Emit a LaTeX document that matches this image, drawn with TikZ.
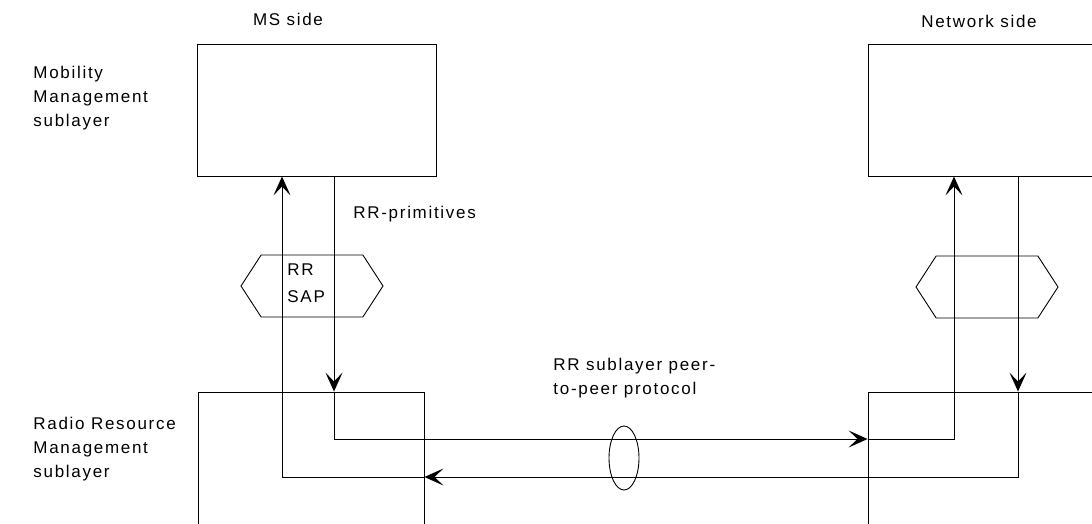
\documentclass[tikz,border=0pt]{standalone}
\usepackage{fontspec}
\setmainfont{Liberation Sans}[LetterSpace=10]
\usetikzlibrary{shapes,arrows.meta,positioning,calc}

\begin{document}
\begin{tikzpicture}[
    x=1pt, y=-1pt,
    line width=0.9pt,
    every node/.style={font=\fontsize{17}{24}\selectfont},
    layer/.style={rectangle, draw, minimum width=239pt, minimum height=132pt, inner sep=0pt},
    sap/.style={signal, signal to=west and east, signal pointer angle=114, draw, minimum width=142pt, minimum height=62pt, inner sep=0pt},
    lbl/.style={inner sep=0pt, align=left},
    arrow/.style={-{Stealth[length=19pt,width=17pt,inset=9pt]}}
]
\path[use as bounding box, clip] (0,0) rectangle (1092,524);

% Sublayer boxes
\node[layer] (msmm) at (316.5,110) {};
\node[layer, minimum width=250pt] (nwmm) at (993,110) {};
\node[layer, minimum width=226pt, minimum height=170pt] (msrr) at (311,477) {};
\node[layer, minimum width=250pt, minimum height=170pt] (nwrr) at (993,477) {};

% Service access points
\node[sap] (mssap) at (312,286) {};
\node[sap] (nwsap) at (987,287) {};
\node[draw, ellipse, minimum width=30pt, minimum height=64pt, inner sep=0pt] (peerring) at (624,458) {};

% Labels
\node[lbl, anchor=base] (msside) at (288,26) {MS side};
\node[lbl, anchor=base] (nwside) at (979,28) {Network side};
\node[lbl, anchor=north west] (mmlabel) at (33,66) {Mobility\\Management\\sublayer};
\node[lbl, anchor=north west] (rrmlabel) at (33,417) {Radio Resource\\Management\\sublayer};
\node[lbl, anchor=base west] (primlabel) at (353,218) {RR-primitives};
\node[lbl, anchor=north west, font=\fontsize{17}{27}\selectfont] (saplabel) at (287,263) {RR\\SAP};
\node[lbl, anchor=north west] (peerlabel) at (553,358) {RR sublayer peer-\\to-peer protocol};

% Corners of the primitive paths
\coordinate (dnL) at (334,439);
\coordinate (upN) at (954,439);
\coordinate (dnN) at (1018,477);
\coordinate (upL) at (282,477);

% Arrows
\draw[arrow] (msmm.south -| dnL) -- (msrr.north -| dnL);
\draw[arrow] (msrr.north -| dnL) -- (dnL) -- (nwrr.west |- dnL);
\draw[arrow] (nwrr.west |- dnL) -- (upN) -- (nwmm.south -| upN);

\draw[arrow] (nwmm.south -| dnN) -- (nwrr.north -| dnN);
\draw[arrow] (nwrr.north -| dnN) -- (dnN) -- (msrr.east |- dnN);
\draw[arrow] (msrr.east |- dnN) -- (upL) -- (msmm.south -| upL);

\end{tikzpicture}
\end{document}
